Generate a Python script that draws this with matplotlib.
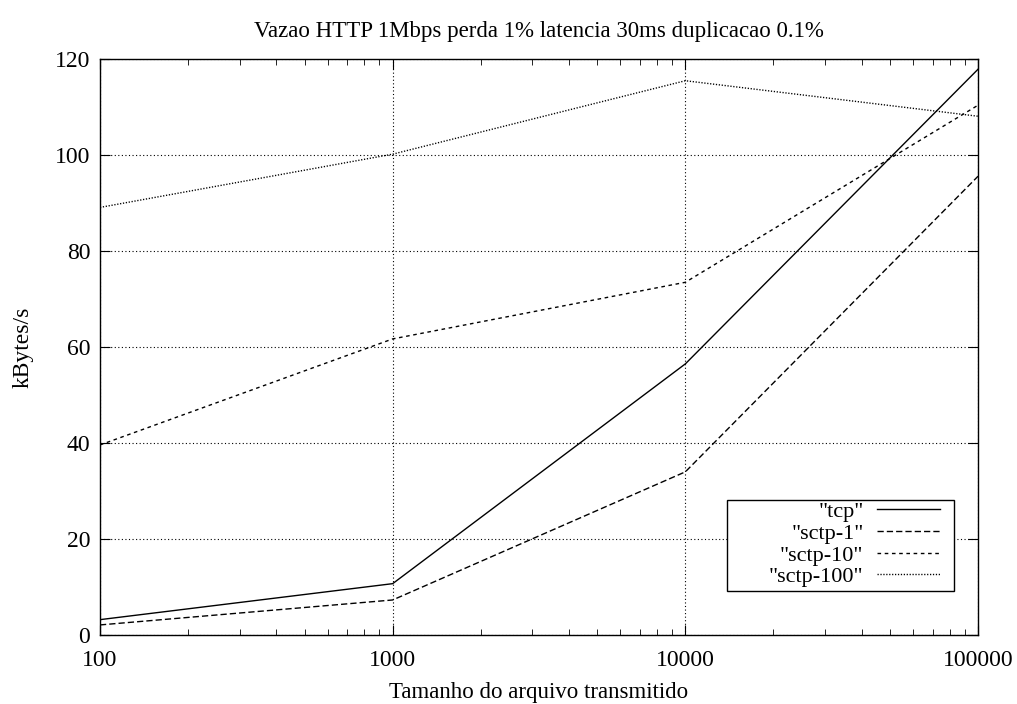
import numpy as np
import matplotlib.pyplot as plt
from matplotlib.patches import Rectangle

plt.rcParams['font.family'] = ['Liberation Serif', 'DejaVu Serif']

sizes = [100, 1000, 10000, 100000]
tcp = [3.2, 10.7, 56.5, 117.9]
sctp_1 = [2.1, 7.3, 34.0, 95.6]
sctp_10 = [39.6, 61.7, 73.5, 110.4]
sctp_100 = [89.1, 100.2, 115.5, 108.1]

fig = plt.figure(figsize=(10.17, 7.04), dpi=100)
ax = fig.add_axes([0.0983, 0.098, 0.8634, 0.818])

ax.plot(sizes, tcp, color='black', lw=1.0, ls='-', label='"tcp"')
ax.plot(sizes, sctp_1, color='black', lw=1.0, ls=(0, (4.5, 2.2)), label='"sctp-1"')
ax.plot(sizes, sctp_10, color='black', lw=1.0, ls=(0, (2.6, 2.6)), label='"sctp-10"')
ax.plot(sizes, sctp_100, color='black', lw=1.0, ls=(0, (0.9, 1.2)), label='"sctp-100"')

ax.set_xscale('log')
ax.set_xlim(100, 100000)
ax.set_ylim(0, 120)
ax.set_xticks(sizes)
ax.set_xticklabels(['100', '1000', '10000', '100000'])
ax.set_yticks(np.arange(0, 121, 20))

ax.grid(True, which='major', color='black', ls=(0, (1, 2.2)), lw=0.8)
ax.tick_params(which='both', direction='in', top=True, right=True, labelsize=17)
ax.tick_params(axis='x', pad=11)
ax.tick_params(axis='y', pad=7)
ax.tick_params(which='major', length=7)
ax.tick_params(which='minor', length=4)
for s in ax.spines.values():
    s.set_linewidth(1.0)

ax.set_title('Vazao HTTP 1Mbps perda 1% latencia 30ms duplicacao 0.1%', fontsize=16.5, pad=16)
ax.set_xlabel('Tamanho do arquivo transmitido', fontsize=16.5, labelpad=8)
ax.set_ylabel('kBytes/s', fontsize=17, labelpad=15)

# gnuplot-style key: labels right-aligned, line samples on the right, wide box
leg = ax.legend(loc='lower right', bbox_to_anchor=(0.957, 0.083), markerfirst=False,
                fontsize=16, frameon=False, handlelength=2.85, borderpad=0,
                labelspacing=0.05, handletextpad=0.6, borderaxespad=0)
ax.add_patch(Rectangle((0.714, 0.0764), 0.259, 0.158, transform=ax.transAxes,
                       facecolor='white', edgecolor='black', lw=1.0, zorder=4))
leg.set_zorder(5)

fig.savefig('out.png', dpi=100)
